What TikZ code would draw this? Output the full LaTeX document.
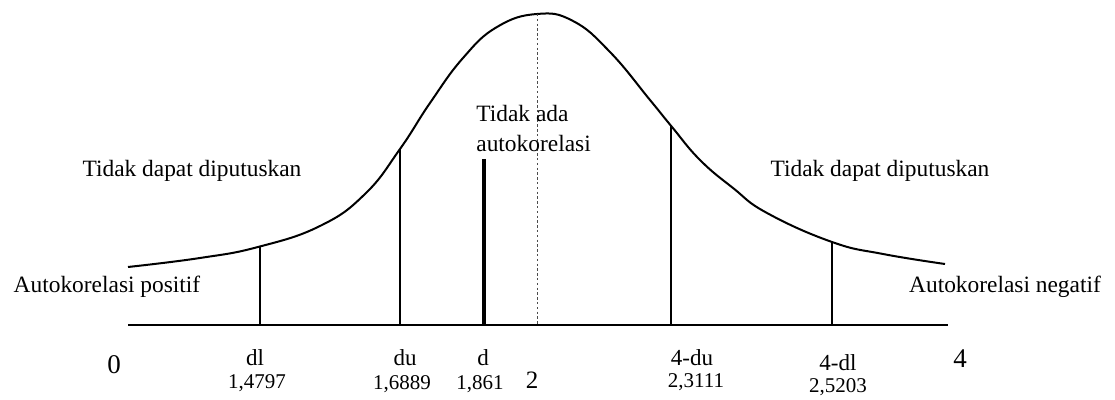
\documentclass[tikz,border=0pt]{standalone}
\usepackage{fontspec}
\setmainfont{Liberation Serif}
\usetikzlibrary{positioning}

\begin{document}
\begin{tikzpicture}[
    x=0.5pt, y=-0.5pt,
    % Define styles
    curve/.style={line width=1pt, black},
    axisline/.style={line width=1pt, black},
    bound/.style={line width=0.8pt, black},
    dstat/.style={line width=2pt, black},
    midline/.style={line width=0.4pt, black!70, dash pattern=on 1.2pt off 1.2pt},
    zonelabel/.style={font=\fontsize{11.7}{15}\selectfont, inner sep=0pt, align=left, anchor=base},
    critlabel/.style={font=\fontsize{11.5}{13}\selectfont, inner sep=0pt, anchor=base},
    critvalue/.style={font=\fontsize{10.5}{12}\selectfont, inner sep=0pt, anchor=base},
    endlabel/.style={font=\fontsize{13.5}{16}\selectfont, inner sep=0pt, anchor=base}
]
    \useasboundingbox (0,0) rectangle (1115,400);

    % 1. The density curve
    \draw[curve] plot[smooth, tension=0.75] coordinates {
        (128,267) (200,258) (258,247) (320,226) (365,194)
        (400,149) (430,103) (463,58) (497,27) (537,14) (573,21)
        (610,52) (650,100) (672,127) (700,160) (733,188) (767,213)
        (832,242) (883,254) (945,264)};

    % 2. The axis
    \coordinate (axisL) at (128,325);
    \coordinate (axisR) at (948,325);
    \draw[axisline] (axisL) -- (axisR);

    % 3. Critical bounds (top on the curve, foot on the axis)
    \coordinate (dlTop) at (260,247);    \coordinate (dlFoot) at (260,325);
    \coordinate (duTop) at (400,149);    \coordinate (duFoot) at (400,325);
    \coordinate (dTop) at (484,159);     \coordinate (dFoot) at (484,325);
    \coordinate (midTop) at (537,14);    \coordinate (midFoot) at (537,325);
    \coordinate (uduTop) at (671,126);   \coordinate (uduFoot) at (671,325);
    \coordinate (udlTop) at (832,242);   \coordinate (udlFoot) at (832,325);

    \draw[bound] (dlTop) -- (dlFoot);
    \draw[bound] (duTop) -- (duFoot);
    \draw[dstat] (dTop) -- (dFoot);
    \draw[midline] (midTop) -- (midFoot);
    \draw[bound] (uduTop) -- (uduFoot);
    \draw[bound] (udlTop) -- (udlFoot);

    % 4. Zone labels
    \node[zonelabel] (undecL) at (192,177) {Tidak dapat diputuskan};
    \node[zonelabel] (undecR) at (880,177) {Tidak dapat diputuskan};
    \node[zonelabel, anchor=north west] (noauto) at (476,105) {Tidak ada\\autokorelasi};
    \node[zonelabel] (autopos) at (107,293) {Autokorelasi positif};
    \node[zonelabel] (autoneg) at (1005,293) {Autokorelasi negatif};

    % 5. Axis labels and values
    \node[endlabel] (zero) at (114,374) {0};
    \node[endlabel] (four) at (960,368) {4};
    \node[critlabel] (dl) at (255,366) {dl};
    \node[critvalue] (dlval) at (257,389) {1,4797};
    \node[critlabel] (du) at (405,366) {du};
    \node[critvalue] (duval) at (402,390) {1,6889};
    \node[critlabel] (d) at (483,366) {d};
    \node[critvalue] (dval) at (480,390) {1,861};
    \node[endlabel, font=\fontsize{12.5}{14}\selectfont] (two) at (532,389) {2};
    \node[critlabel] (udu) at (692,366) {4-du};
    \node[critvalue] (uduval) at (696,388) {2,3111};
    \node[critlabel] (udl) at (838,371) {4-dl};
    \node[critvalue] (udlval) at (838,393) {2,5203};

\end{tikzpicture}
\end{document}
